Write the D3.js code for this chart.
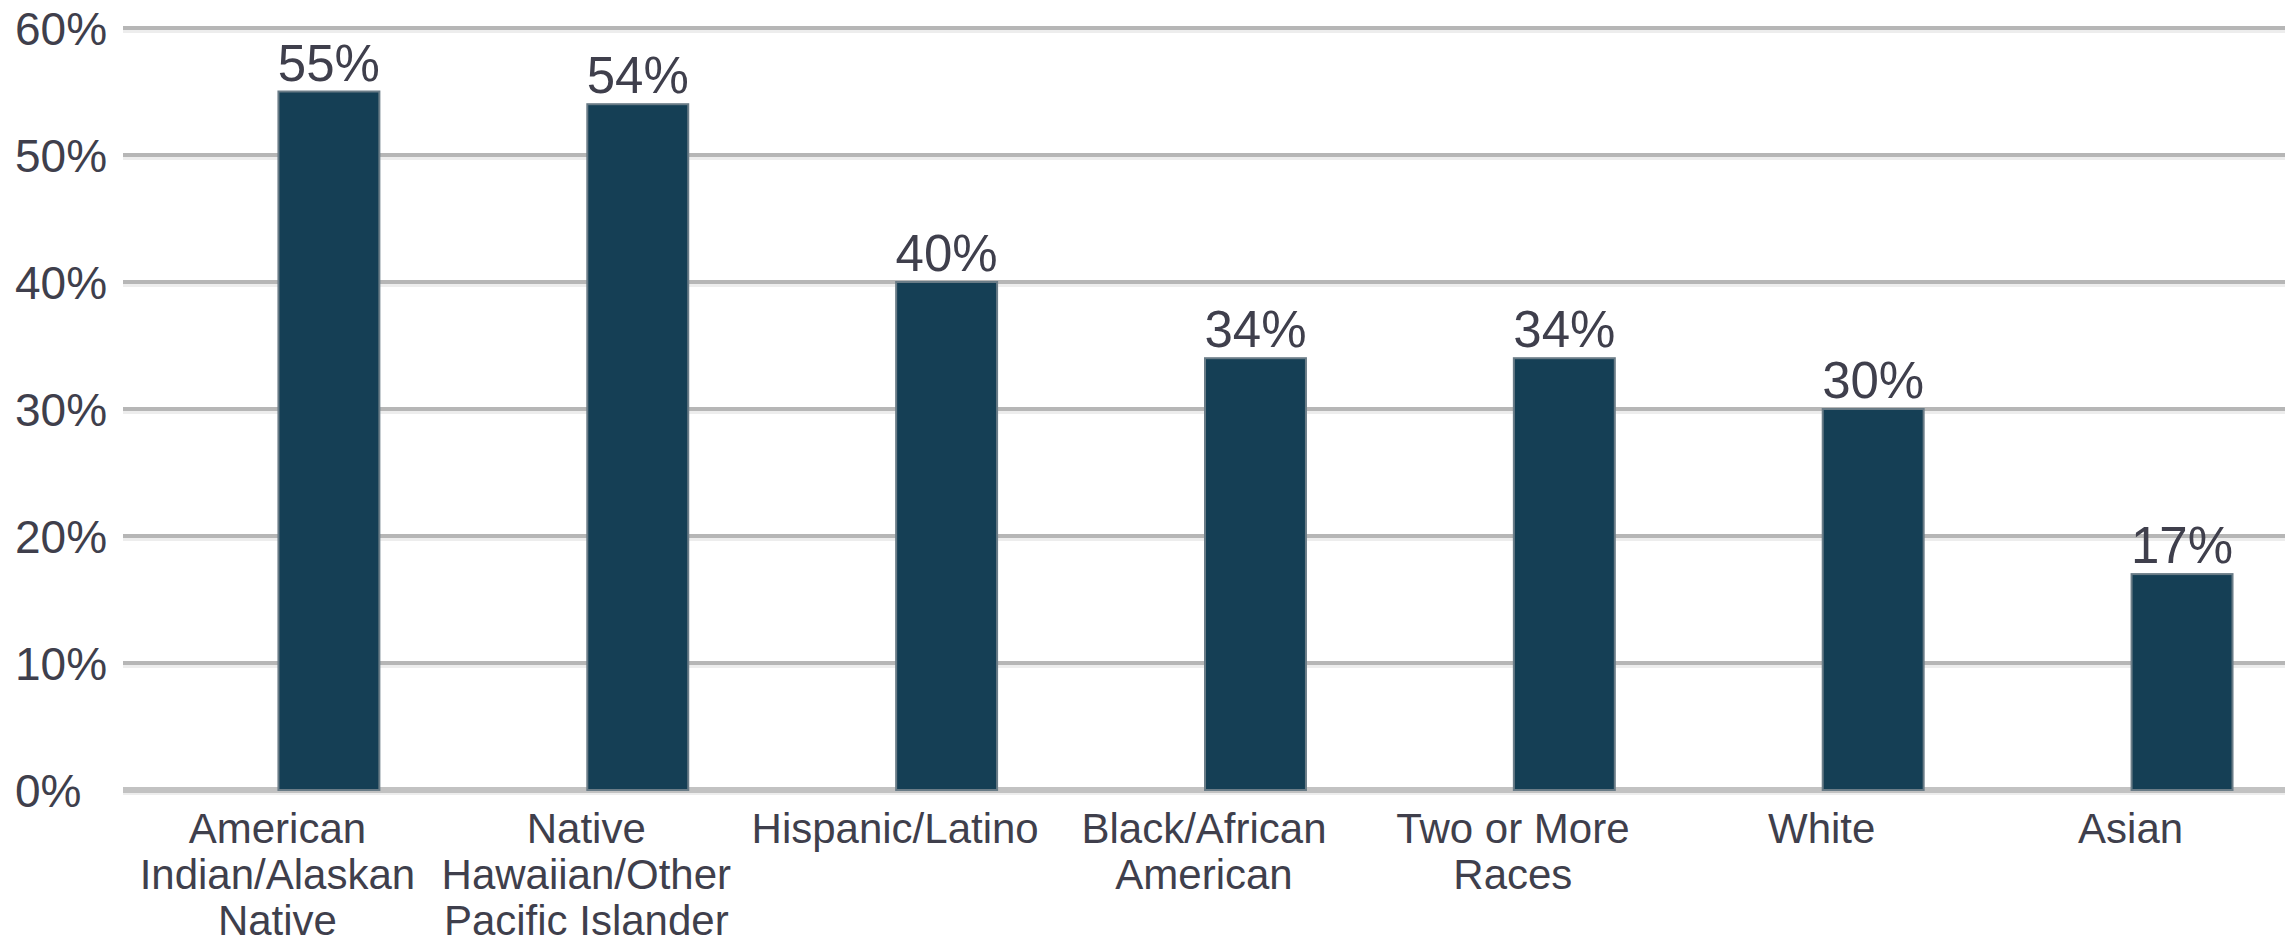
<!DOCTYPE html>
<html>
<head>
<meta charset="utf-8">
<script src="https://cdn.jsdelivr.net/npm/d3@7"></script>
<style>
  html, body { margin: 0; padding: 0; background: #ffffff; }
  svg { display: block; }
  text { font-family: "Liberation Sans", Arial, sans-serif; fill: #3f3f4c; }
</style>
</head>
<body>
<svg id="chart" width="2293" height="947"></svg>
<script>
// Share of students by race/ethnicity
const categories = [
  "American Indian/Alaskan Native",
  "Native Hawaiian/Other Pacific Islander",
  "Hispanic/Latino",
  "Black/African American",
  "Two or More Races",
  "White",
  "Asian"
];
// Category labels broken into display lines
const categoryLines = [
  ["American", "Indian/Alaskan", "Native"],
  ["Native", "Hawaiian/Other", "Pacific Islander"],
  ["Hispanic/Latino"],
  ["Black/African", "American"],
  ["Two or More", "Races"],
  ["White"],
  ["Asian"]
];
const values = [55, 54, 40, 34, 34, 30, 17];
const yTicks = [0, 10, 20, 30, 40, 50, 60];

const svg = d3.select("#chart");

const plot = { left: 123, right: 2285, top: 28, bottom: 790 };

const x = d3.scaleBand()
  .domain(categories)
  .range([plot.left, plot.right])
  .paddingInner(0)
  .paddingOuter(0);

const y = d3.scaleLinear()
  .domain([0, 60])
  .range([plot.bottom, plot.top]);

// Each category slot holds two bar positions (gap 100%); the data sits in the right one
const barW = x.bandwidth() / 3;

// Horizontal gridlines
const grid = svg.append("g");
grid.selectAll("line.soft")
  .data(yTicks)
  .join("line")
  .attr("class", "soft")
  .attr("x1", plot.left).attr("x2", plot.right)
  .attr("y1", d => y(d) + 3.5).attr("y2", d => y(d) + 3.5)
  .attr("stroke", "#ededed")
  .attr("stroke-width", 3);
grid.selectAll("line.main")
  .data(yTicks)
  .join("line")
  .attr("class", "main")
  .attr("x1", plot.left).attr("x2", plot.right)
  .attr("y1", d => y(d)).attr("y2", d => y(d))
  .attr("stroke", d => d === 0 ? "#c2c2c2" : "#b6b6b6")
  .attr("stroke-width", d => d === 0 ? 6 : 4);

// Y axis labels, left aligned
svg.append("g")
  .selectAll("text")
  .data(yTicks)
  .join("text")
  .attr("x", 15)
  .attr("y", d => y(d) + 16.5)
  .attr("text-anchor", "start")
  .style("font-size", "46px")
  .text(d => d + "%");

// Bars
const rows = categories.map((c, i) => ({ cat: c, value: values[i], lines: categoryLines[i] }));

svg.append("g")
  .selectAll("rect")
  .data(rows)
  .join("rect")
  .attr("x", d => x(d.cat) + x.bandwidth() / 2 + 1)
  .attr("y", d => y(d.value))
  .attr("width", barW - 2)
  .attr("height", d => y(0) - y(d.value))
  .attr("fill", "#153f55")
  .attr("stroke", "#6a7c87")
  .attr("stroke-width", 2);

// Value labels above bars
svg.append("g")
  .selectAll("text")
  .data(rows)
  .join("text")
  .attr("x", d => x(d.cat) + x.bandwidth() / 2 + barW / 2)
  .attr("y", d => y(d.value) - 11)
  .attr("text-anchor", "middle")
  .style("font-size", "51px")
  .text(d => d.value + "%");

// Category labels
const cl = svg.append("g")
  .selectAll("text")
  .data(rows)
  .join("text")
  .attr("text-anchor", "middle")
  .style("font-size", "42px");
cl.selectAll("tspan")
  .data(d => d.lines.map(l => ({ l, cx: x(d.cat) + x.bandwidth() / 2 })))
  .join("tspan")
  .attr("x", d => d.cx)
  .attr("y", (d, i) => plot.bottom + 53 + i * 46)
  .text(d => d.l);
</script>
</body>
</html>
